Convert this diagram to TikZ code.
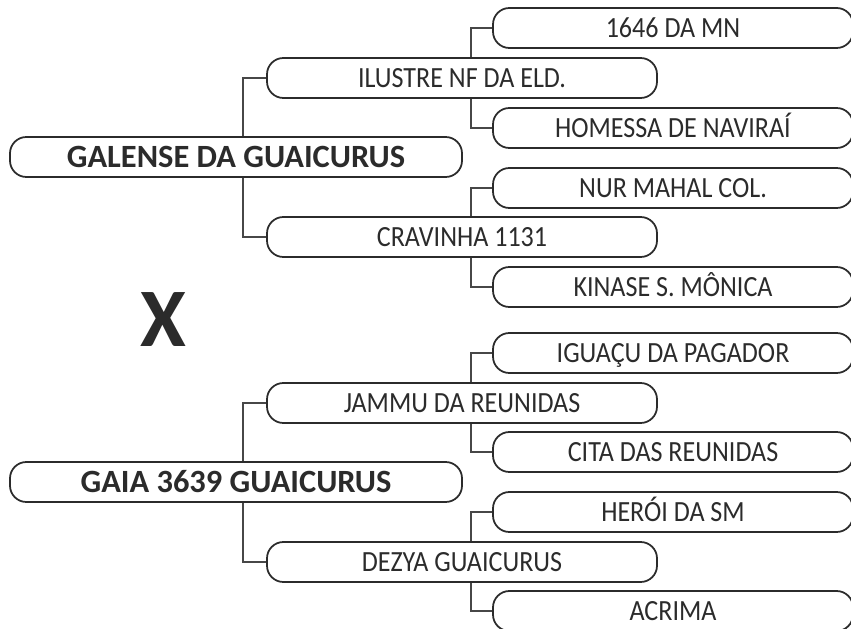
\documentclass[tikz,border=0pt]{standalone}
\usepackage{fontspec}
\setmainfont{Carlito}
\newfontfamily\leaffont{Carlito}[FakeStretch=0.89]
\usetikzlibrary{positioning}
\definecolor{ink}{HTML}{2B2B2B}
\definecolor{wiregray}{HTML}{474747}
\tikzset{
  pedbox/.style={draw=ink, line width=1.5pt, rounded corners=14pt, minimum height=1.2cm, inner sep=0pt, text=ink},
  rootbox/.style={pedbox, minimum width=13.56cm, text height=0.63cm, text depth=0pt, font=\bfseries\fontsize{27.7}{31}\selectfont},
  sirebox/.style={pedbox, minimum width=11.7cm, text height=0.567cm, text depth=0pt, font=\leaffont\fontsize{25}{29}\selectfont},
  leafbox/.style={pedbox, minimum width=10.8cm, text height=0.567cm, text depth=0pt, font=\leaffont\fontsize{25}{29}\selectfont},
  wire/.style={draw=wiregray, line width=0.9pt}
}

\begin{document}
\begin{tikzpicture}[x=0.03cm, y=-0.03cm]
  \useasboundingbox (0,0) rectangle (851,629);

  % sire side
  \node[rootbox] (root1) at (236,157) {GALENSE DA GUAICURUS};
  \node[sirebox] (s1) at (462,78) {ILUSTRE NF DA ELD.};
  \node[sirebox] (s2) at (462,237) {CRAVINHA 1131};
  \node[leafbox] (l1) at (673,28) {1646 DA MN};
  \node[leafbox] (l2) at (673,128) {HOMESSA DE NAVIRAÍ};
  \node[leafbox] (l3) at (673,188) {NUR MAHAL COL.};
  \node[leafbox] (l4) at (673,287) {KINASE S. MÔNICA};

  \node[font=\bfseries\fontsize{71}{75}\selectfont, inner sep=0pt, text=ink] (cross) at (163,320) {X};

  % dam side
  \node[rootbox] (root2) at (236,482) {GAIA 3639 GUAICURUS};
  \node[sirebox] (s3) at (462,403) {JAMMU DA REUNIDAS};
  \node[sirebox] (s4) at (462,562) {DEZYA GUAICURUS};
  \node[leafbox] (l5) at (673,353) {IGUAÇU DA PAGADOR};
  \node[leafbox] (l6) at (673,452) {CITA DAS REUNIDAS};
  \node[leafbox] (l7) at (673,512) {HERÓI DA SM};
  \node[leafbox] (l8) at (673,611) {ACRIMA};

  % connectors
  \draw[wire] (s1.west) -| ([xshift=0.21cm]root1.north);
  \draw[wire] (s2.west) -| ([xshift=0.21cm]root1.south);
  \draw[wire] (s3.west) -| ([xshift=0.21cm]root2.north);
  \draw[wire] (s4.west) -| ([xshift=0.21cm]root2.south);
  \draw[wire] (l1.west) -| ([xshift=0.27cm]s1.north);
  \draw[wire] (l2.west) -| ([xshift=0.27cm]s1.south);
  \draw[wire] (l3.west) -| ([xshift=0.27cm]s2.north);
  \draw[wire] (l4.west) -| ([xshift=0.27cm]s2.south);
  \draw[wire] (l5.west) -| ([xshift=0.27cm]s3.north);
  \draw[wire] (l6.west) -| ([xshift=0.27cm]s3.south);
  \draw[wire] (l7.west) -| ([xshift=0.27cm]s4.north);
  \draw[wire] (l8.west) -| ([xshift=0.27cm]s4.south);
\end{tikzpicture}
\end{document}
